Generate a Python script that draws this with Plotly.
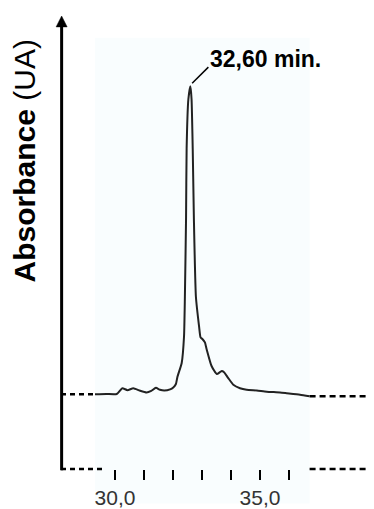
import plotly.graph_objects as go

# ---- data ----
time_min = [29.31, 29.70, 30.06, 30.25, 30.43, 30.63, 30.85, 31.09, 31.25, 31.41,
            31.55, 31.70, 31.90, 32.01, 32.10, 32.15, 32.30, 32.38, 32.41, 32.45,
            32.47, 32.53, 32.60, 32.64, 32.68, 32.72, 32.79, 32.90, 32.95, 33.02,
            33.10, 33.16, 33.33, 33.51, 33.68, 33.76, 33.90, 34.08, 34.31, 34.54,
            34.89, 35.23, 35.69, 35.92, 36.38, 36.71]
absorbance = [0.195, 0.196, 0.196, 0.211, 0.206, 0.211, 0.205, 0.200, 0.204, 0.212,
              0.207, 0.205, 0.208, 0.213, 0.222, 0.240, 0.277, 0.346, 0.450, 0.656,
              0.837, 0.966, 1.000, 0.966, 0.837, 0.656, 0.450, 0.372, 0.344, 0.339,
              0.331, 0.313, 0.269, 0.248, 0.256, 0.253, 0.238, 0.220, 0.211, 0.207,
              0.205, 0.202, 0.200, 0.198, 0.194, 0.190]
tick_values = [30, 31, 32, 33, 34, 35, 36]
tick_labels = ["30,0", "", "", "", "", "35,0", ""]
peak_label = "32,60 min."
y_title = "<b>Absorbance</b> (UA)"

X_RANGE = [28.138, 38.931]
Y_RANGE = [0.0, 1.1835]
FONT = "Liberation Sans, Arial, Helvetica, sans-serif"

def xp(t):
    return (t - X_RANGE[0]) / (X_RANGE[1] - X_RANGE[0])

peak_i = max(range(len(absorbance)), key=lambda i: absorbance[i])
peak_t, peak_v = time_min[peak_i], absorbance[peak_i]

fig = go.Figure()

dash_style = dict(color="black", width=2.5, dash="5px,4px")
fig.add_trace(go.Scatter(x=[X_RANGE[0], time_min[0]], y=[absorbance[0]] * 2,
                         mode="lines", line=dash_style, hoverinfo="skip"))
fig.add_trace(go.Scatter(x=[time_min[-1], X_RANGE[1]], y=[absorbance[-1]] * 2,
                         mode="lines", line=dict(color="black", width=2.5, dash="6px,4px"),
                         hoverinfo="skip"))
fig.add_trace(go.Scatter(x=time_min, y=absorbance, mode="lines",
                         line=dict(color="#222222", width=2, shape="spline", smoothing=0.5)))

H = 458.0
W = 313.0
shapes = [
    # very light background panel
    dict(type="rect", xref="paper", yref="paper", x0=xp(time_min[0]), x1=xp(time_min[-1]),
         y0=-35 / H, y1=(474 - 38) / H, fillcolor="#f9fdfe", line=dict(width=0), layer="below"),
    # y axis line
    dict(type="line", xref="paper", yref="paper", x0=0.002, x1=0.002, y0=-0.003, y1=1 - 10 / H,
         line=dict(color="black", width=3)),
    # arrow head
    dict(type="path", xref="paper", yref="paper",
         path=f"M {0.002 - 5.5 / W},{1 - 11 / H} L {0.002 + 5.5 / W},{1 - 11 / H} L 0.002,1 Z",
         fillcolor="black", line=dict(color="black", width=0.5)),
    # bottom dashed lines
    dict(type="line", xref="paper", yref="paper", x0=0.0, x1=xp(29.66), y0=0, y1=0,
         line=dash_style),
    dict(type="line", xref="paper", yref="paper", x0=xp(time_min[-1]), x1=1.0, y0=0, y1=0,
         line=dict(color="black", width=2.5, dash="6px,4px")),
    # leader line to peak
    dict(type="line", xref="x", yref="y", x0=peak_t + 0.06, y0=peak_v + 0.008,
         x1=peak_t + 0.62, y1=peak_v + 0.05, line=dict(color="black", width=1.5)),
]

annotations = [
    dict(x=peak_t + 0.62, y=peak_v + 0.07, xref="x", yref="y", text=f"<b>{peak_label}</b>",
         showarrow=False, xanchor="left", yanchor="middle",
         font=dict(family=FONT, size=23, color="black")),
    dict(x=(24 - 61) / W, y=(474 - 163) / H, xref="paper", yref="paper", text=y_title,
         textangle=-90, showarrow=False, xanchor="center", yanchor="middle",
         font=dict(family=FONT, size=30, color="black")),
]

# page body has an 8px margin: figure is sized to fill the rest of the window
fig.update_layout(
    width=366, height=501,
    margin=dict(l=53, r=0, t=8, b=35),
    paper_bgcolor="white", plot_bgcolor="rgba(0,0,0,0)",
    showlegend=False,
    shapes=shapes, annotations=annotations,
    xaxis=dict(range=X_RANGE, tickvals=tick_values, ticktext=tick_labels,
               ticks="outside", ticklen=10, tickwidth=1.5, tickcolor="black",
               showline=False, showgrid=False, zeroline=False,
               tickfont=dict(family=FONT, size=21, color="#333333")),
    yaxis=dict(range=Y_RANGE, visible=False, showgrid=False, zeroline=False),
)

fig.write_html("out.html")
